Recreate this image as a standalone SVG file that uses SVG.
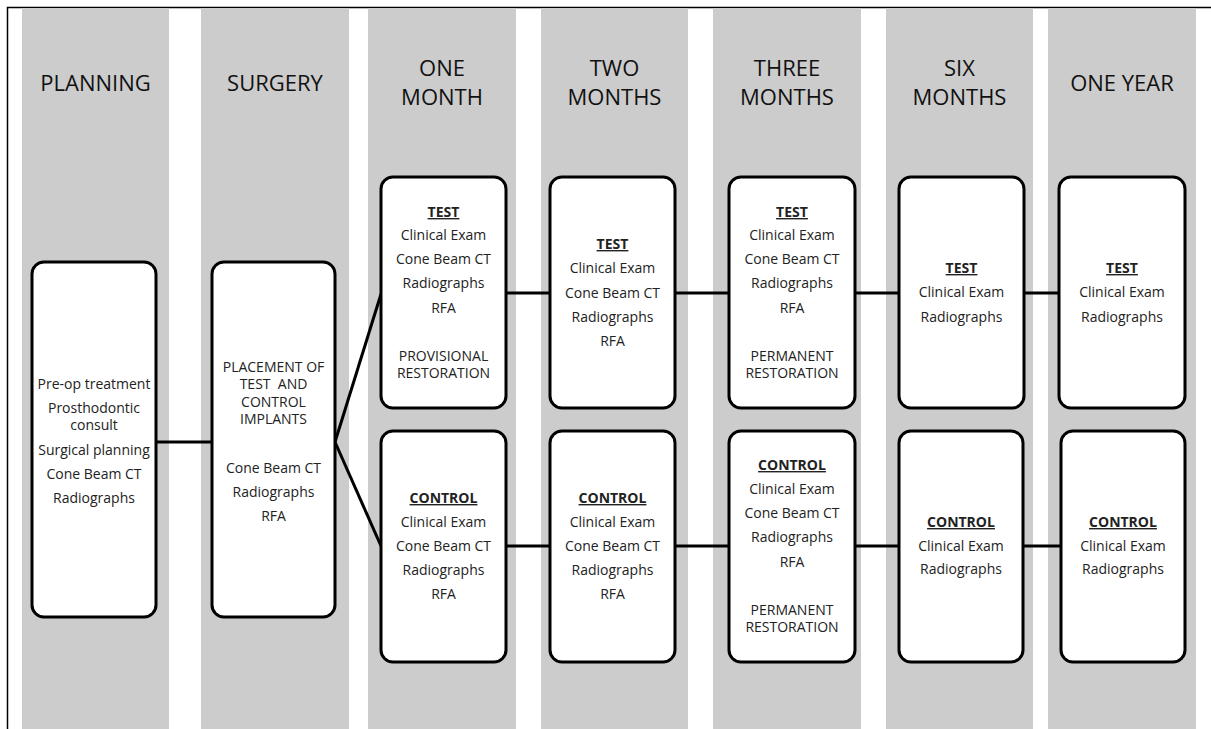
<svg xmlns="http://www.w3.org/2000/svg" width="1211" height="729" viewBox="0 0 1211 729">
<style>
.col{fill:#cccccc}
.box{fill:#ffffff;stroke:#000;stroke-width:3}
.hd{font-family:"Open Sans","Liberation Sans",sans-serif;font-size:22px;fill:#111;text-anchor:middle}
.tx{font-family:"Open Sans","Liberation Sans",sans-serif;font-size:14px;fill:#222;text-anchor:middle}
.ul{font-weight:bold;text-decoration:underline}
.ln{stroke:#000;stroke-width:3;fill:none}
</style>
<rect width="1211" height="729" fill="#fff"/>
<path d="M7.5 729V7.5H1211" stroke="#000" stroke-width="1.5" fill="none"/>
<g id="columns">
<rect class="col" x="22" y="8" width="147" height="721"/>
<rect class="col" x="201" y="8" width="148" height="721"/>
<rect class="col" x="368" y="8" width="148" height="721"/>
<rect class="col" x="541" y="8" width="147" height="721"/>
<rect class="col" x="713" y="8" width="148" height="721"/>
<rect class="col" x="886" y="8" width="147" height="721"/>
<rect class="col" x="1048" y="8" width="148" height="721"/>
</g>
<g id="headers">
<text class="hd" x="95.5" y="91">PLANNING</text>
<text class="hd" x="275" y="91">SURGERY</text>
<text class="hd" x="442" y="76">ONE</text><text class="hd" x="442" y="105">MONTH</text>
<text class="hd" x="614.5" y="76">TWO</text><text class="hd" x="614.5" y="105">MONTHS</text>
<text class="hd" x="787" y="76">THREE</text><text class="hd" x="787" y="105">MONTHS</text>
<text class="hd" x="959.5" y="76">SIX</text><text class="hd" x="959.5" y="105">MONTHS</text>
<text class="hd" x="1122" y="91">ONE YEAR</text>
</g>
<g id="connectors">
<line class="ln" x1="156" y1="442" x2="212" y2="442"/>
<line class="ln" x1="335" y1="442" x2="381" y2="294"/>
<line class="ln" x1="335" y1="442" x2="381" y2="546"/>
<line class="ln" x1="506" y1="293" x2="550" y2="293"/>
<line class="ln" x1="675" y1="293" x2="729" y2="293"/>
<line class="ln" x1="855" y1="293" x2="899" y2="293"/>
<line class="ln" x1="1024" y1="293" x2="1059" y2="293"/>
<line class="ln" x1="506" y1="546" x2="550" y2="546"/>
<line class="ln" x1="675" y1="546" x2="729" y2="546"/>
<line class="ln" x1="855" y1="546" x2="899" y2="546"/>
<line class="ln" x1="1023" y1="546" x2="1061" y2="546"/>
</g>
<g id="planning">
<rect class="box" x="32" y="262" width="124" height="355" rx="12"/>
<text class="tx" x="94" y="389">Pre-op treatment</text>
<text class="tx" x="94" y="413">Prosthodontic</text>
<text class="tx" x="94" y="430">consult</text>
<text class="tx" x="94" y="455">Surgical planning</text>
<text class="tx" x="94" y="479">Cone Beam CT</text>
<text class="tx" x="94" y="503">Radiographs</text>
</g>
<g id="surgery">
<rect class="box" x="212" y="262" width="123" height="355" rx="12"/>
<text class="tx" x="273.5" y="372">PLACEMENT OF</text>
<text class="tx" x="273.5" y="389" xml:space="preserve">TEST  AND</text>
<text class="tx" x="273.5" y="407">CONTROL</text>
<text class="tx" x="273.5" y="424">IMPLANTS</text>
<text class="tx" x="273.5" y="473">Cone Beam CT</text>
<text class="tx" x="273.5" y="497">Radiographs</text>
<text class="tx" x="273.5" y="521">RFA</text>
</g>
<g id="test-1m">
<rect class="box" x="381" y="177" width="125" height="231" rx="12"/>
<text class="tx ul" x="443.5" y="217">TEST</text>
<text class="tx" x="443.5" y="240">Clinical Exam</text>
<text class="tx" x="443.5" y="264">Cone Beam CT</text>
<text class="tx" x="443.5" y="288">Radiographs</text>
<text class="tx" x="443.5" y="313">RFA</text>
<text class="tx" x="443.5" y="361">PROVISIONAL</text>
<text class="tx" x="443.5" y="378">RESTORATION</text>
</g>
<g id="test-2m">
<rect class="box" x="550" y="177" width="125" height="231" rx="12"/>
<text class="tx ul" x="612.5" y="249">TEST</text>
<text class="tx" x="612.5" y="273">Clinical Exam</text>
<text class="tx" x="612.5" y="298">Cone Beam CT</text>
<text class="tx" x="612.5" y="322">Radiographs</text>
<text class="tx" x="612.5" y="346">RFA</text>
</g>
<g id="test-3m">
<rect class="box" x="729" y="177" width="126" height="231" rx="12"/>
<text class="tx ul" x="792" y="217">TEST</text>
<text class="tx" x="792" y="240">Clinical Exam</text>
<text class="tx" x="792" y="264">Cone Beam CT</text>
<text class="tx" x="792" y="288">Radiographs</text>
<text class="tx" x="792" y="313">RFA</text>
<text class="tx" x="792" y="361">PERMANENT</text>
<text class="tx" x="792" y="378">RESTORATION</text>
</g>
<g id="test-6m">
<rect class="box" x="899" y="177" width="125" height="231" rx="12"/>
<text class="tx ul" x="961.5" y="273">TEST</text>
<text class="tx" x="961.5" y="297">Clinical Exam</text>
<text class="tx" x="961.5" y="322">Radiographs</text>
</g>
<g id="test-1y">
<rect class="box" x="1059" y="177" width="126" height="231" rx="12"/>
<text class="tx ul" x="1122" y="273">TEST</text>
<text class="tx" x="1122" y="297">Clinical Exam</text>
<text class="tx" x="1122" y="322">Radiographs</text>
</g>
<g id="control-1m">
<rect class="box" x="381" y="431" width="125" height="231" rx="12"/>
<text class="tx ul" x="443.5" y="503">CONTROL</text>
<text class="tx" x="443.5" y="527">Clinical Exam</text>
<text class="tx" x="443.5" y="551">Cone Beam CT</text>
<text class="tx" x="443.5" y="575">Radiographs</text>
<text class="tx" x="443.5" y="599">RFA</text>
</g>
<g id="control-2m">
<rect class="box" x="550" y="431" width="125" height="231" rx="12"/>
<text class="tx ul" x="612.5" y="503">CONTROL</text>
<text class="tx" x="612.5" y="527">Clinical Exam</text>
<text class="tx" x="612.5" y="551">Cone Beam CT</text>
<text class="tx" x="612.5" y="575">Radiographs</text>
<text class="tx" x="612.5" y="599">RFA</text>
</g>
<g id="control-3m">
<rect class="box" x="729" y="431" width="126" height="231" rx="12"/>
<text class="tx ul" x="792" y="470">CONTROL</text>
<text class="tx" x="792" y="494">Clinical Exam</text>
<text class="tx" x="792" y="518">Cone Beam CT</text>
<text class="tx" x="792" y="542">Radiographs</text>
<text class="tx" x="792" y="567">RFA</text>
<text class="tx" x="792" y="615">PERMANENT</text>
<text class="tx" x="792" y="632">RESTORATION</text>
</g>
<g id="control-6m">
<rect class="box" x="899" y="431" width="124" height="231" rx="12"/>
<text class="tx ul" x="961" y="527">CONTROL</text>
<text class="tx" x="961" y="551">Clinical Exam</text>
<text class="tx" x="961" y="574">Radiographs</text>
</g>
<g id="control-1y">
<rect class="box" x="1061" y="431" width="124" height="231" rx="12"/>
<text class="tx ul" x="1123" y="527">CONTROL</text>
<text class="tx" x="1123" y="551">Clinical Exam</text>
<text class="tx" x="1123" y="574">Radiographs</text>
</g>
</svg>
